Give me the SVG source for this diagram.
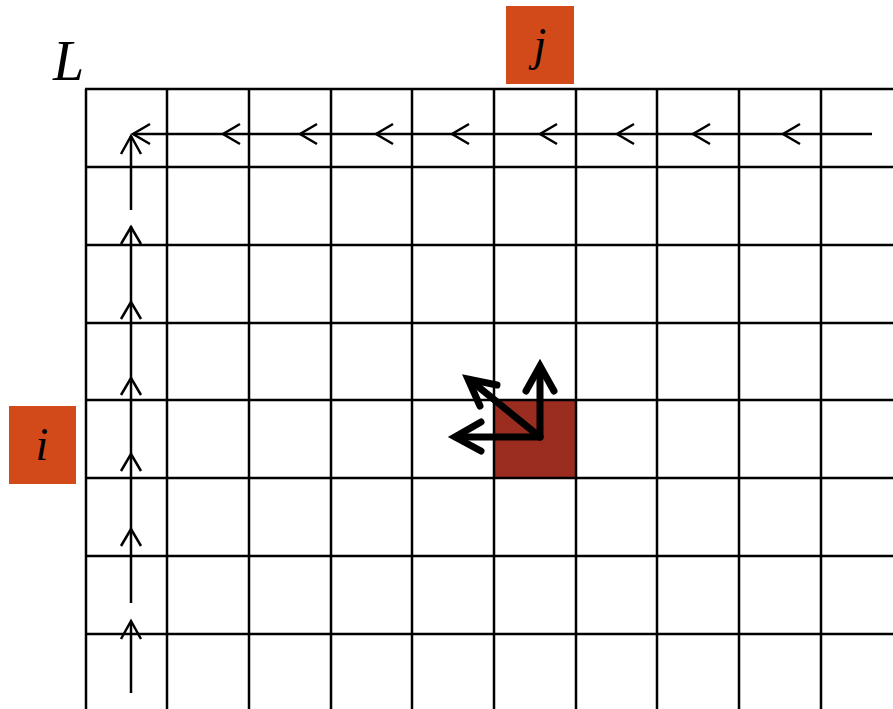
<svg xmlns="http://www.w3.org/2000/svg" width="893" height="709" viewBox="0 0 893 709">
<style>
.grid line{stroke:#000;stroke-width:2.5}
.thin{stroke:#000;stroke-width:2.5;fill:none;stroke-linecap:butt}
.thick{stroke:#000;stroke-width:7;fill:none;stroke-linecap:round;stroke-linejoin:miter}
.lbl{font-family:"Liberation Serif","DejaVu Serif",serif;font-style:italic;fill:#000}
.orange{fill:#d34a1a}
</style>
<rect width="893" height="709" fill="#fff"/>
<g id="cell-ij"><rect x="494" y="400" width="82" height="78" fill="#9b2c20"/></g>
<g id="grid" class="grid">
<line x1="86" y1="89" x2="86" y2="709"/>
<line x1="167" y1="89" x2="167" y2="709"/>
<line x1="249" y1="89" x2="249" y2="709"/>
<line x1="331" y1="89" x2="331" y2="709"/>
<line x1="412" y1="89" x2="412" y2="709"/>
<line x1="494" y1="89" x2="494" y2="709"/>
<line x1="576" y1="89" x2="576" y2="709"/>
<line x1="657" y1="89" x2="657" y2="709"/>
<line x1="739" y1="89" x2="739" y2="709"/>
<line x1="821" y1="89" x2="821" y2="709"/>
<line x1="85" y1="89" x2="893" y2="89"/>
<line x1="85" y1="167" x2="893" y2="167"/>
<line x1="85" y1="245" x2="893" y2="245"/>
<line x1="85" y1="323" x2="893" y2="323"/>
<line x1="85" y1="400" x2="893" y2="400"/>
<line x1="85" y1="478" x2="893" y2="478"/>
<line x1="85" y1="556" x2="893" y2="556"/>
<line x1="85" y1="634" x2="893" y2="634"/>
</g>
<g id="L"><text class="lbl" x="53" y="80" font-size="56">L</text></g>
<g id="j"><rect class="orange" x="506" y="6" width="68" height="78"/><text class="lbl" x="540" y="60" font-size="46" text-anchor="middle">j</text></g>
<g id="i"><rect class="orange" x="9" y="406" width="67" height="78"/><text class="lbl" x="42" y="460" font-size="46" text-anchor="middle">i</text></g>
<g id="connectors">
<g id="row-path" class="thin">
<path d="M872 134H133"/>
<path d="M800 124L783 134L800 144"/>
<path d="M710 124L693 134L710 144"/>
<path d="M634 124L617 134L634 144"/>
<path d="M557 124L540 134L557 144"/>
<path d="M469 124L452 134L469 144"/>
<path d="M393 124L376 134L393 144"/>
<path d="M317 124L300 134L317 144"/>
<path d="M240 124L223 134L240 144"/>
<path d="M150 124L133 134L150 144"/>
</g>
<g id="col-path" class="thin">
<path d="M131 693V622"/>
<path d="M131 603V528"/>
<path d="M131 528V453"/>
<path d="M131 453V377"/>
<path d="M131 377V302"/>
<path d="M131 302V226"/>
<path d="M131 210V136"/>
<path d="M121 639L131 621L141 639"/>
<path d="M121 546L131 529L141 546"/>
<path d="M121 471L131 454L141 471"/>
<path d="M121 395L131 378L141 395"/>
<path d="M121 319L131 302L141 319"/>
<path d="M121 244L131 227L141 244"/>
<path d="M121 154L131 136L141 154"/>
</g>
<g id="dp-arrows" class="thick">
<path d="M540 437V367"/>
<path d="M526 391L540 366L554 391"/>
<path d="M540 437H456"/>
<path d="M481 422L455 437L481 451"/>
<path d="M540 437L470 380"/>
<path d="M497 385L468 379L480 406"/>
</g>
</g>
</svg>
